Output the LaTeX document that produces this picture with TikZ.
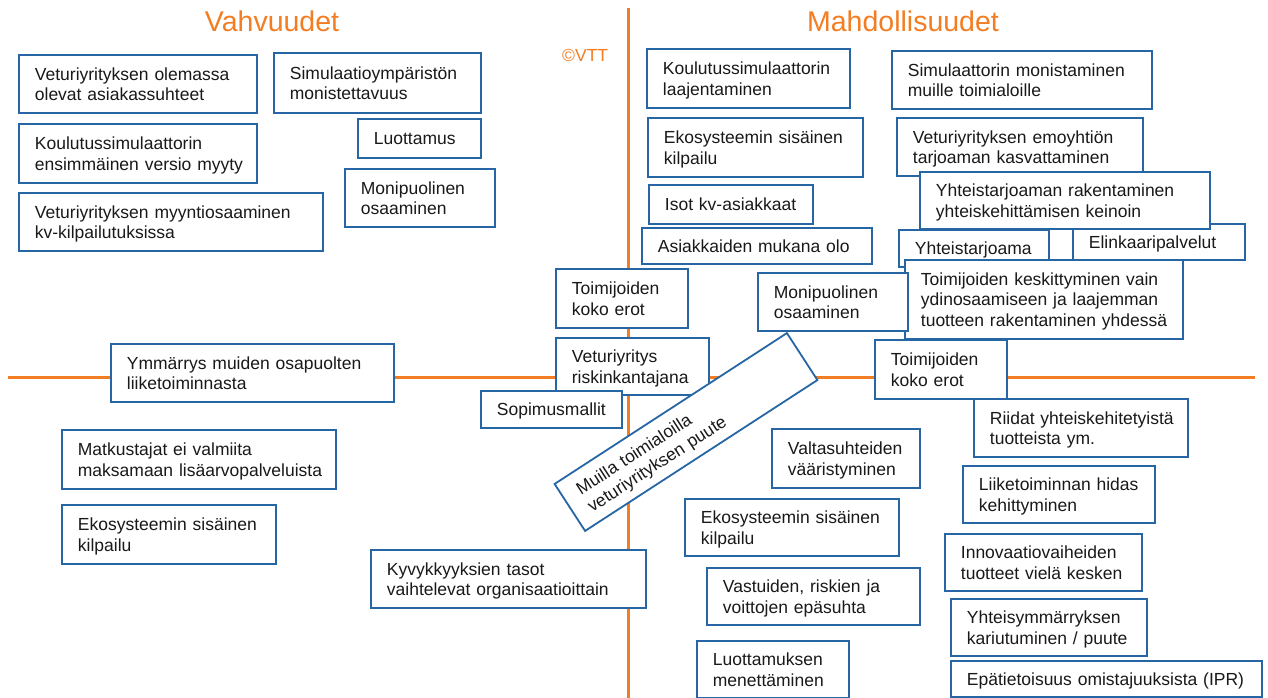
\documentclass[tikz,border=0pt]{standalone}
\usepackage{fontspec}
\setmainfont{Liberation Sans}
\definecolor{boxblue}{RGB}{38,102,164}
\definecolor{swotorange}{RGB}{243,125,34}
\definecolor{boxtext}{RGB}{25,25,25}
\newcommand\boxfont{\fontsize{17.5}{20.5}\selectfont}
% strut that sits the text baselines a little low, as in the boxes
\newcommand\boxstrut{\rule[-3.75pt]{0pt}{20.5pt}}
\tikzset{
  box/.style 2 args={draw=boxblue, line width=1.8pt, fill=white, text=boxtext,
    inner xsep=0pt, inner ysep=0pt, align=left, anchor=north west,
    font=\boxfont, text width=#1, minimum height=#2,
    execute at begin node={\leftskip=16pt\relax\boxstrut},
    execute at end node={\boxstrut}},
  axis/.style={draw=swotorange, line width=3pt},
  heading/.style={text=swotorange, font=\fontsize{28.5}{32}\selectfont, anchor=base, inner sep=0pt}
}
\begin{document}
\begin{tikzpicture}[x=1pt,y=-1pt]
\useasboundingbox (0,0) rectangle (1268,698);
\fill[white] (0,0) rectangle (1268,698);

% quadrant axes
\coordinate (vtop) at (628,8);
\coordinate (vbot) at (628,698);
\coordinate (hleft) at (8,377);
\coordinate (hright) at (1255,377);
\draw[axis] (vtop) -- (vbot);
\draw[axis] (hleft) -- (hright);

% headings
\node[heading] (vahv) at (272,32) {Vahvuudet};
\node[heading] (mahd) at (903,32) {Mahdollisuudet};
\node[text=swotorange, font=\fontsize{17.5}{20}\selectfont, anchor=base west, inner sep=0pt] (vtt) at (562,62) {©VTT};

% strengths
\node[box={238}{58}] (a1) at (18,54) {Veturiyrityksen olemassa\\olevat asiakassuhteet};
\node[box={207}{60}] (a2) at (273,52) {Simulaatioympäristön\\monistettavuus};
\node[box={238}{59}] (a3) at (18,123) {Koulutussimulaattorin\\ensimmäinen versio myyty};
\node[box={123}{39}] (a4) at (357,118) {Luottamus};
\node[box={150}{58}] (a5) at (344,168) {Monipuolinen\\osaaminen};
\node[box={304}{58}] (a6) at (18,192) {Veturiyrityksen myyntiosaaminen\\kv-kilpailutuksissa};

% weaknesses
\node[box={283}{58}] (y1) at (110,343) {Ymmärrys muiden osapuolten\\liiketoiminnasta};
\node[box={274}{59}] (w1) at (61,429) {Matkustajat ei valmiita\\maksamaan lisäarvopalveluista};
\node[box={214}{59}] (w2) at (61,504) {Ekosysteemin sisäinen\\kilpailu};
\node[box={275}{58}] (w3) at (370,549) {Kyvykkyyksien tasot\\vaihtelevat organisaatioittain};

% opportunities
\node[box={203}{59}] (b1) at (646,48) {Koulutussimulaattorin\\laajentaminen};
\node[box={260}{58}] (b2) at (891,50) {Simulaattorin monistaminen\\muille toimialoille};
\node[box={215}{59}] (b3) at (647,117) {Ekosysteemin sisäinen\\kilpailu};
\node[box={164}{39}] (b5) at (648,184) {Isot kv-asiakkaat};
\node[box={230}{36}] (b7) at (641,227) {Asiakkaiden mukana olo};
\node[box={246}{58}] (b4) at (896,117) {Veturiyrityksen emoyhtiön\\tarjoaman kasvattaminen};
\node[box={172}{36}] (b9) at (1072,223) {Elinkaaripalvelut};
\node[box={290}{57}] (b6) at (919,171) {Yhteistarjoaman rakentaminen\\yhteiskehittämisen keinoin};
\node[box={150}{37}] (b8) at (898,229) {Yhteistarjoama};
\node[box={278}{79}] (b10) at (904,259) {Toimijoiden keskittyminen vain\\ydinosaamiseen ja laajemman\\tuotteen rakentaminen yhdessä};
\node[box={150}{58}] (b11) at (757,272) {Monipuolinen\\osaaminen};
\node[box={132}{59}] (b12) at (874,339) {Toimijoiden\\koko erot};

% items on the axes
\node[box={132}{59}] (c1) at (555,268) {Toimijoiden\\koko erot};
\node[box={153}{57}] (c2) at (555,337) {Veturiyritys\\riskinkantajana};
\node[box={141}{37}] (c3) at (480,390) {Sopimusmallit};
\node[box={277}{56}, anchor=center, rotate=33] (rot) at (686,432) {Muilla toimialoilla\\veturiyrityksen puute};

% threats
\node[box={148}{59}] (d1) at (771,428) {Valtasuhteiden\\vääristyminen};
\node[box={214}{57}] (d2) at (684,498) {Ekosysteemin sisäinen\\kilpailu};
\node[box={213}{57}] (d3) at (706,567) {Vastuiden, riskien ja\\voittojen epäsuhta};
\node[box={152}{57}] (d4) at (696,640) {Luottamuksen\\menettäminen};
\node[box={214}{58}] (e1) at (973,398) {Riidat yhteiskehitetyistä\\tuotteista ym.};
\node[box={192}{57}] (e2) at (962,465) {Liiketoiminnan hidas\\kehittyminen};
\node[box={197}{57}] (e3) at (944,533) {Innovaatiovaiheiden\\tuotteet vielä kesken};
\node[box={196}{57}] (e4) at (950,598) {Yhteisymmärryksen\\kariutuminen / puute};
\node[box={311}{36}] (e5) at (950,660) {Epätietoisuus omistajuuksista (IPR)};
\end{tikzpicture}
\end{document}
